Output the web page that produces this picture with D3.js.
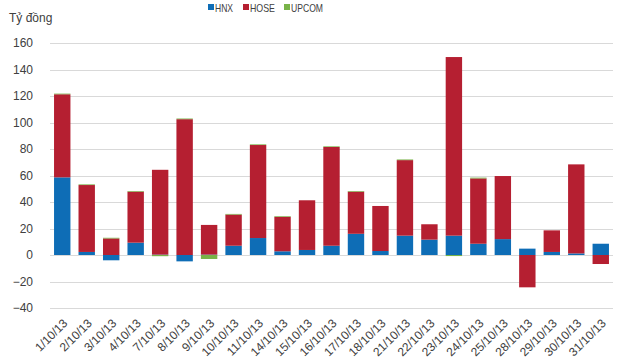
<!DOCTYPE html>
<html><head><meta charset="utf-8">
<script src="https://cdn.jsdelivr.net/npm/d3@7"></script>
<style>body{margin:0;background:#fff}svg{display:block}</style>
</head><body>
<svg id="c" width="620" height="362"></svg>
<script>
const categories = ["1/10/13","2/10/13","3/10/13","4/10/13","7/10/13","8/10/13","9/10/13","10/10/13","11/10/13","14/10/13","15/10/13","16/10/13","17/10/13","18/10/13","21/10/13","22/10/13","23/10/13","24/10/13","25/10/13","28/10/13","29/10/13","30/10/13","31/10/13"];
const hnx   = [58.6, 2.3, -4, 9.3, 0.3, -4.8, 0.3, 7, 12.8, 2.8, 3.8, 7, 16, 3, 14.6, 11.6, 14.6, 8.5, 12, 4.8, 2.3, 1.2, 8.5];
const hose  = [62.7, 50.5, 12.5, 38.5, 64, 102.5, 22.4, 23.5, 70.2, 26, 37.5, 74.5, 31.8, 34, 57, 11.6, 134.8, 49.3, 47.6, -24.4, 16.3, 67.2, -6.8];
const upcom = [0.5, 0.5, 0.5, 0.5, -0.9, 0.5, -3, 0.5, 0.5, 0.5, 0, 0.5, 0.5, 0, 0.5, 0, -0.8, 0.6, 0, 0, 0, 0, 0];
const seriesNames = ["HNX","HOSE","UPCOM"];
const colors = ["#0e6db6","#b51f31","#78b348"];
const yTicks = [-40,-20,0,20,40,60,80,100,120,140,160];

const rows = categories.map((c,i)=>({cat:c, HNX:hnx[i], HOSE:hose[i], UPCOM:upcom[i]}));
const stack = d3.stack().keys(seriesNames).offset(d3.stackOffsetDiverging)(rows);

const svg = d3.select("#c");
const x = d3.scaleBand().domain(categories).range([50,613]).paddingInner(0.33).paddingOuter(0.165);
const y = d3.scaleLinear().domain([-40,160]).range([308,43]);

// gridlines
svg.append("g").selectAll("line").data(yTicks).join("line")
  .attr("x1",50).attr("x2",613)
  .attr("y1",d=>Math.round(y(d))+0.5).attr("y2",d=>Math.round(y(d))+0.5)
  .attr("stroke","#d9d9d9").attr("stroke-width",1);

// y labels
const yAxis = d3.axisLeft(y).tickValues(yTicks).tickSize(0).tickPadding(0);
const gy = svg.append("g").attr("transform","translate(33,0)").call(yAxis);
gy.select(".domain").remove();
gy.selectAll("text").attr("font-family","Liberation Sans, Arial, sans-serif").attr("font-size",12).attr("fill","#404040");

// bars
svg.append("g").selectAll("g").data(stack).join("g")
  .attr("fill",(d,i)=>colors[i])
  .selectAll("rect").data(d=>d).join("rect")
  .attr("x",d=>x(d.data.cat))
  .attr("width",x.bandwidth())
  .attr("y",d=>y(Math.max(d[0],d[1])))
  .attr("height",d=>Math.abs(y(d[0])-y(d[1])));

// x labels
const xAxis = d3.axisBottom(x).tickSize(0).tickPadding(0);
const gx = svg.append("g").call(xAxis);
gx.select(".domain").remove();
gx.selectAll(".tick text")
  .attr("font-family","Liberation Sans, Arial, sans-serif").attr("font-size",12).attr("fill","#404040")
  .attr("text-anchor","end").attr("dy",0).attr("y",0)
  .attr("transform","translate(6,324) rotate(-45)");

// title
svg.append("text").attr("x",9).attr("y",22).text("Tỷ đồng")
  .attr("font-family","Liberation Sans, Arial, sans-serif").attr("font-size",12).attr("fill","#404040");

// legend
const legX = [208,243,284];
const legW = [18,25,32];
const lg = svg.append("g").selectAll("g").data(seriesNames).join("g")
  .attr("transform",(d,i)=>`translate(${legX[i]},0)`);
lg.append("rect").attr("x",0).attr("y",4).attr("width",6).attr("height",6).attr("fill",(d,i)=>colors[i]);
lg.append("text").attr("x",7).attr("y",12).text(d=>d)
  .attr("textLength",(d,i)=>legW[i]).attr("lengthAdjust","spacingAndGlyphs")
  .attr("font-family","Liberation Sans, Arial, sans-serif").attr("font-size",11).attr("fill","#404040");
</script>
</body></html>
